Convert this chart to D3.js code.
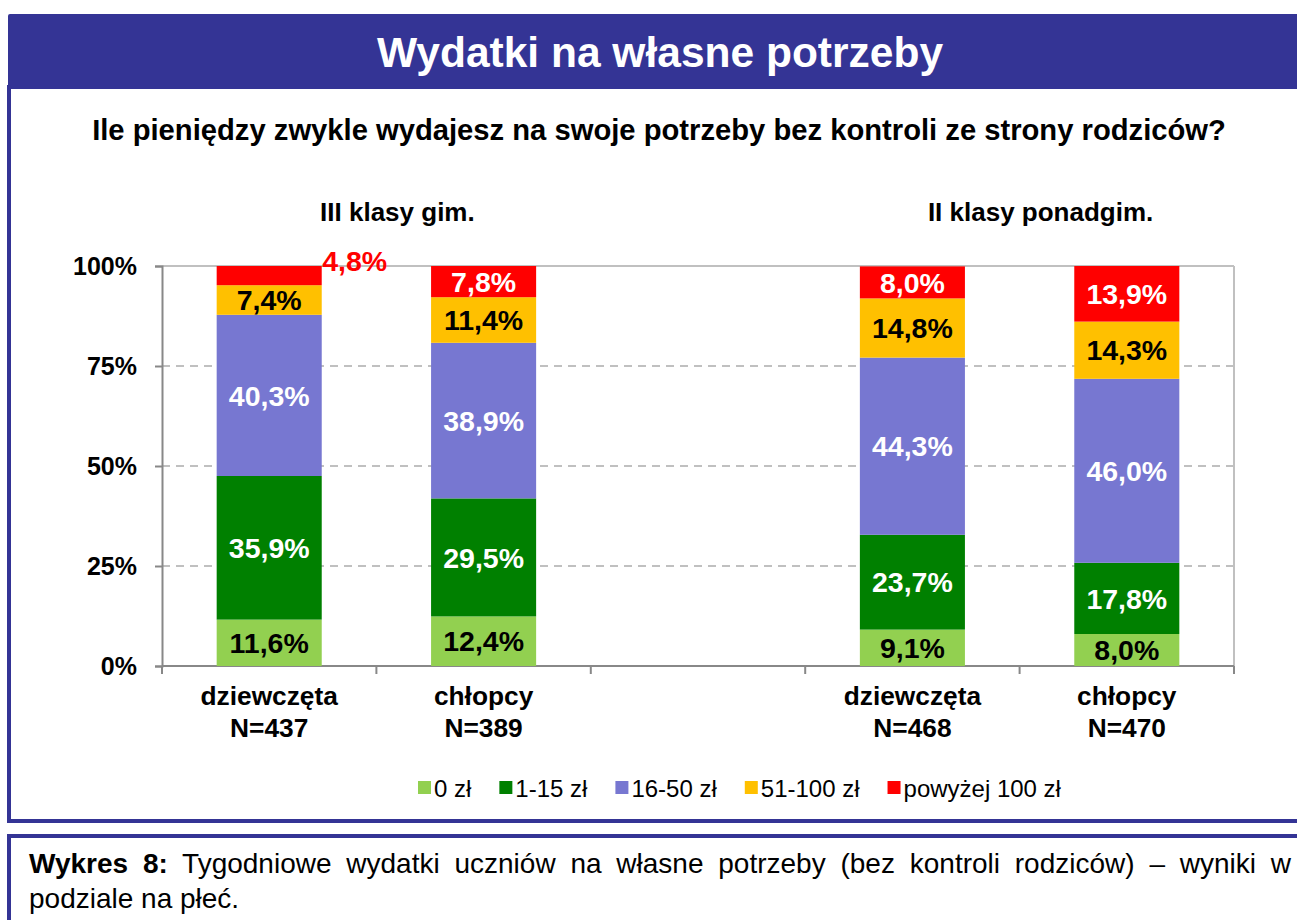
<!DOCTYPE html>
<html>
<head>
<meta charset="utf-8">
<script src="https://cdn.jsdelivr.net/npm/d3@7"></script>
<style>
  html, body { margin: 0; padding: 0; background: #fff; }
  svg text { font-family: Arial, "Liberation Sans", sans-serif; }
</style>
</head>
<body>
<script>
// dane z wykresu
const groups = ["III klasy gim.", "II klasy ponadgim."];
const categories = ["g1", "b1", "gap", "g2", "b2"];
const catNames = ["dziewczęta", "chłopcy", "", "dziewczęta", "chłopcy"];
const catN = ["N=437", "N=389", "", "N=468", "N=470"];
const seriesNames = ["0 zł", "1-15 zł", "16-50 zł", "51-100 zł", "powyżej 100 zł"];
const seriesColors = ["#92D050", "#008000", "#7777D1", "#FFC000", "#FF0000"];
const labelColors = ["#000", "#fff", "#fff", "#000", "#fff"];
const zl0 = [11.6, 12.4, null, 9.1, 8.0];
const zl1_15 = [35.9, 29.5, null, 23.7, 17.8];
const zl16_50 = [40.3, 38.9, null, 44.3, 46.0];
const zl51_100 = [7.4, 11.4, null, 14.8, 14.3];
const zl100plus = [4.8, 7.8, null, 8.0, 13.9];
const yTicks = [0, 25, 50, 75, 100];

const W = 1297, H = 920;
const blue = "#343495";
const margin = { top: 266, left: 162, right: 63, bottom: 254 };
const width = W - margin.left - margin.right;
const height = H - margin.top - margin.bottom;

const svg = d3.select("body").append("svg")
  .attr("width", W).attr("height", H);

// ramki i nagłówek
svg.append("rect").attr("x", 9).attr("y", 87).attr("width", 1320).attr("height", 734)
  .attr("fill", "none").attr("stroke", blue).attr("stroke-width", 4);
svg.append("rect").attr("x", 8).attr("y", 14).attr("width", 1320).attr("height", 75)
  .attr("rx", 2).attr("fill", blue);
svg.append("text").attr("x", 660).attr("y", 67).attr("text-anchor", "middle")
  .attr("fill", "#fff").attr("font-weight", "bold").attr("font-size", 42.5)
  .text("Wydatki na własne potrzeby");
svg.append("text").attr("x", 659).attr("y", 140).attr("text-anchor", "middle")
  .attr("font-weight", "bold").attr("font-size", 29.2)
  .text("Ile pieniędzy zwykle wydajesz na swoje potrzeby bez kontroli ze strony rodziców?");

const g = svg.append("g").attr("transform", `translate(${margin.left},${margin.top})`);

const x = d3.scaleBand().domain(categories).range([0, width]).paddingInner(0).paddingOuter(0);
const barW = x.bandwidth() * 0.49;
const y = d3.scaleLinear().domain([0, 100]).range([height, 0]);

// siatka
g.append("g").selectAll("line").data(yTicks.filter(d => d > 0 && d < 100)).join("line")
  .attr("x1", 0).attr("x2", width).attr("y1", d => y(d)).attr("y2", d => y(d))
  .attr("stroke", "#c0c0c0").attr("stroke-width", 2).attr("stroke-dasharray", "8,6");
g.append("line").attr("x1", 0).attr("x2", width).attr("y1", y(100)).attr("y2", y(100))
  .attr("stroke", "#c0c0c0").attr("stroke-width", 2);
g.append("line").attr("x1", width).attr("x2", width).attr("y1", y(100)).attr("y2", y(0))
  .attr("stroke", "#c0c0c0").attr("stroke-width", 2);

// oś Y
const yAxis = g.append("g").call(d3.axisLeft(y).tickValues(yTicks).tickSize(7).tickPadding(18).tickFormat(d => d + "%"));
yAxis.select(".domain").attr("stroke", "#888").attr("stroke-width", 2);
yAxis.selectAll(".tick line").attr("stroke", "#888").attr("stroke-width", 2);
yAxis.selectAll(".tick text").attr("font-size", 25).attr("font-weight", "bold").attr("fill", "#000")
  .attr("font-family", "Arial, 'Liberation Sans', sans-serif").attr("dy", "0.35em");

// oś X
const xAxis = g.append("g").attr("transform", `translate(0,${height})`);
xAxis.append("line").attr("x1", 0).attr("x2", width).attr("stroke", "#888").attr("stroke-width", 2);
xAxis.selectAll(".xt").data(categories.concat(["end"])).join("line").attr("class", "xt")
  .attr("x1", d => d === "end" ? width : x(d)).attr("x2", d => d === "end" ? width : x(d))
  .attr("y1", 0).attr("y2", 8).attr("stroke", "#888").attr("stroke-width", 2);
categories.forEach((c, i) => {
  if (!catNames[i]) return;
  const t = xAxis.append("text").attr("text-anchor", "middle").attr("font-weight", "bold")
    .attr("font-size", 26.3).attr("x", x(c) + x.bandwidth() / 2);
  t.append("tspan").attr("x", x(c) + x.bandwidth() / 2).attr("y", 39).text(catNames[i]);
  t.append("tspan").attr("x", x(c) + x.bandwidth() / 2).attr("y", 71).text(catN[i]);
});

// tytuły grup
[[groups[0], x("b1") + 21], [groups[1], x("b2") + 21]].forEach(([name, gx]) => {
  g.append("text").attr("x", gx).attr("y", -45).attr("text-anchor", "middle")
    .attr("font-weight", "bold").attr("font-size", 26).text(name);
});

// słupki
const seriesData = [zl0, zl1_15, zl16_50, zl51_100, zl100plus];
const rows = categories.map((c, i) => {
  const r = { cat: c };
  seriesNames.forEach((s, k) => r[s] = seriesData[k][i] || 0);
  return r;
});
const stacked = d3.stack().keys(seriesNames)(rows);

stacked.forEach((layer, k) => {
  const lg = g.append("g");
  layer.forEach((d, i) => {
    if (categories[i] === "gap") return;
    const top = Math.min(d[1], 100);
    const cx = x(categories[i]) + x.bandwidth() / 2;
    lg.append("rect").attr("x", cx - barW / 2).attr("width", barW)
      .attr("y", y(top)).attr("height", y(d[0]) - y(top)).attr("fill", seriesColors[k]);
    const v = seriesData[k][i];
    const label = v.toFixed(1).replace(".", ",") + "%";
    const outside = k === 4 && v < 6;
    lg.append("text")
      .attr("x", outside ? cx + barW / 2 + 33 : cx)
      .attr("y", outside ? y(100) - 5 : y((d[0] + top) / 2))
      .attr("dy", "0.36em").attr("text-anchor", "middle")
      .attr("font-weight", "bold").attr("font-size", 28.5)
      .attr("fill", outside ? "#FF0000" : labelColors[k])
      .text(label);
  });
});

// legenda
const leg = svg.append("g").attr("transform", "translate(418,788)");
let lx = 0;
seriesNames.forEach((s, k) => {
  leg.append("rect").attr("x", lx).attr("y", -7).attr("width", 13).attr("height", 13).attr("fill", seriesColors[k]);
  const t = leg.append("text").attr("x", lx + 16).attr("y", 0)
    .attr("dy", "0.36em").attr("font-size", 24).text(s);
  lx += 16 + t.node().getComputedTextLength() + 28;
});

// podpis
svg.append("rect").attr("x", 9).attr("y", 836).attr("width", 1320).attr("height", 200)
  .attr("fill", "none").attr("stroke", blue).attr("stroke-width", 4);
const cap = svg.append("g").attr("font-size", 28);
const line1 = cap.append("text").attr("x", 29).attr("y", 873);
line1.append("tspan").attr("font-weight", "bold").text("Wykres 8:");
line1.append("tspan").text(" Tygodniowe wydatki uczniów na własne potrzeby (bez kontroli rodziców) – wyniki w");
const natural = line1.node().getComputedTextLength();
const spaces = (line1.text().match(/ /g) || []).length;
line1.attr("word-spacing", (1291 - 29 - natural) / spaces);
cap.append("text").attr("x", 29).attr("y", 908).text("podziale na płeć.");
</script>
</body>
</html>
